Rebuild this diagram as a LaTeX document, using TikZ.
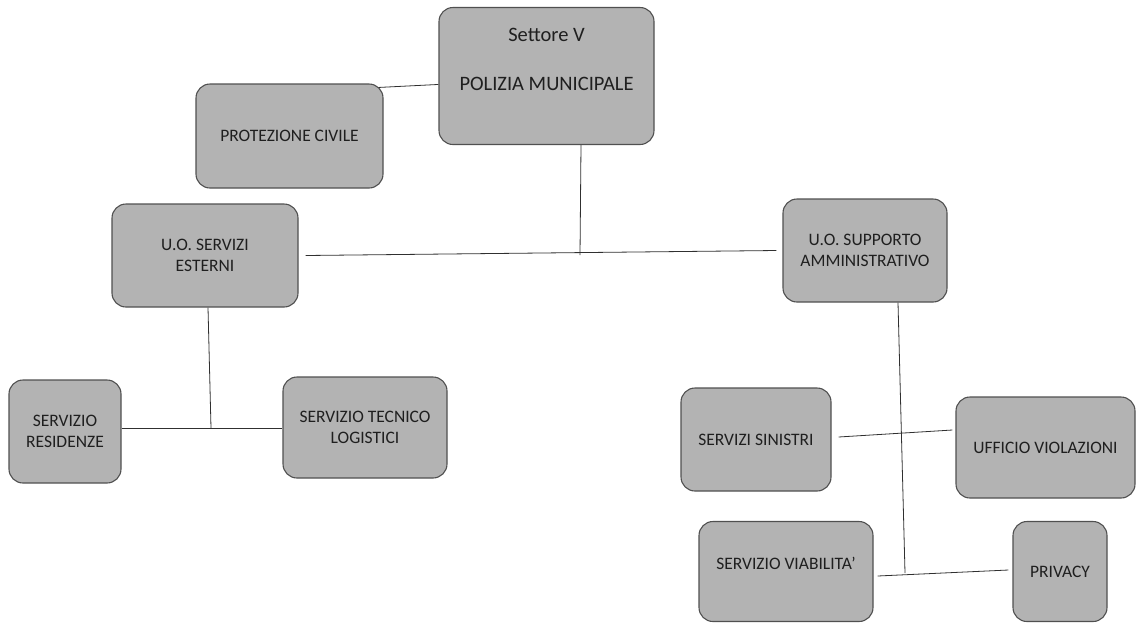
\documentclass[tikz,border=0pt]{standalone}
\usepackage{fontspec}
\setmainfont{Carlito}
\definecolor{boxfill}{HTML}{B3B3B3}
\definecolor{boxline}{HTML}{505050}
\definecolor{conn}{HTML}{303030}
\begin{document}
\begin{tikzpicture}[x=1pt,y=-1pt,
  orgbox/.style={draw=boxline, line width=1.1pt, fill=boxfill, rounded corners=14pt, inner sep=0pt, align=center, text=black!88,
    font=\fontsize{17.5}{21.5}\selectfont},
  txt/.style={inner sep=0pt, align=center, text=black!88, font=\fontsize{17.5}{21.5}\selectfont},
  bigtxt/.style={inner sep=0pt, align=center, text=black!88, font=\fontsize{20.5}{24}\selectfont},
  conline/.style={draw=conn, line width=0.8pt}]
\useasboundingbox (0,0) rectangle (1137,622);
% boxes
\node[orgbox, minimum width=215pt, minimum height=137pt] (pol) at (546.5,76) {};
\node[bigtxt] (polt) at (546.5,35) {Settore V};
\node[bigtxt] (polm) at (546.5,84) {POLIZIA MUNICIPALE};
\node[orgbox, minimum width=187pt, minimum height=104pt] (pro) at (289.5,136) {PROTEZIONE CIVILE};
\node[orgbox, minimum width=186pt, minimum height=103pt] (ese) at (205,255.5) {U.O. SERVIZI\\ESTERNI};
\node[orgbox, minimum width=164pt, minimum height=103pt] (sup) at (865,250.5) {U.O. SUPPORTO\\AMMINISTRATIVO};
\node[orgbox, minimum width=112pt, minimum height=103pt] (res) at (65,431.5) {SERVIZIO\\RESIDENZE};
\node[orgbox, minimum width=164pt, minimum height=101pt] (tec) at (365,427.5) {SERVIZIO TECNICO\\LOGISTICI};
\node[orgbox, minimum width=150pt, minimum height=103pt] (sin) at (756,439.5) {SERVIZI SINISTRI};
\node[orgbox, minimum width=179pt, minimum height=101pt] (vio) at (1045.5,447.5) {UFFICIO VIOLAZIONI};
\node[orgbox, minimum width=174pt, minimum height=100pt] (via) at (786,571.5) {};
\node[txt] (viat) at (786,563) {SERVIZIO VIABILITA’};
\node[orgbox, minimum width=94pt, minimum height=100pt] (pri) at (1060,571.5) {PRIVACY};
% junctions
\coordinate (j1) at (580,255);
\coordinate (j2) at (211,428);
\coordinate (j3) at (905,573);
% connectors
\draw[conline] ([xshift=-5pt,yshift=-4pt]pro.north east) -- ([yshift=-1pt]pol.west |- pro.north);
\draw[conline] ([xshift=34.5pt]pol.south) -- (j1);
\draw[conline] ([xshift=7pt]ese.east) -- ([xshift=-6pt]sup.west);
\draw[conline] ([xshift=3pt]ese.south) -- (j2);
\draw[conline] (res.east |- j2) -- (tec.west |- j2);
\draw[conline] ([xshift=33pt]sup.south) -- (j3);
\draw[conline] ([xshift=7pt,yshift=2.5pt]sin.east) -- ([xshift=-3pt,yshift=17.5pt]vio.west);
\draw[conline] ([xshift=4pt,yshift=-4.5pt]via.east) -- ([xshift=-4pt,yshift=1.5pt]pri.west);
\end{tikzpicture}
\end{document}
